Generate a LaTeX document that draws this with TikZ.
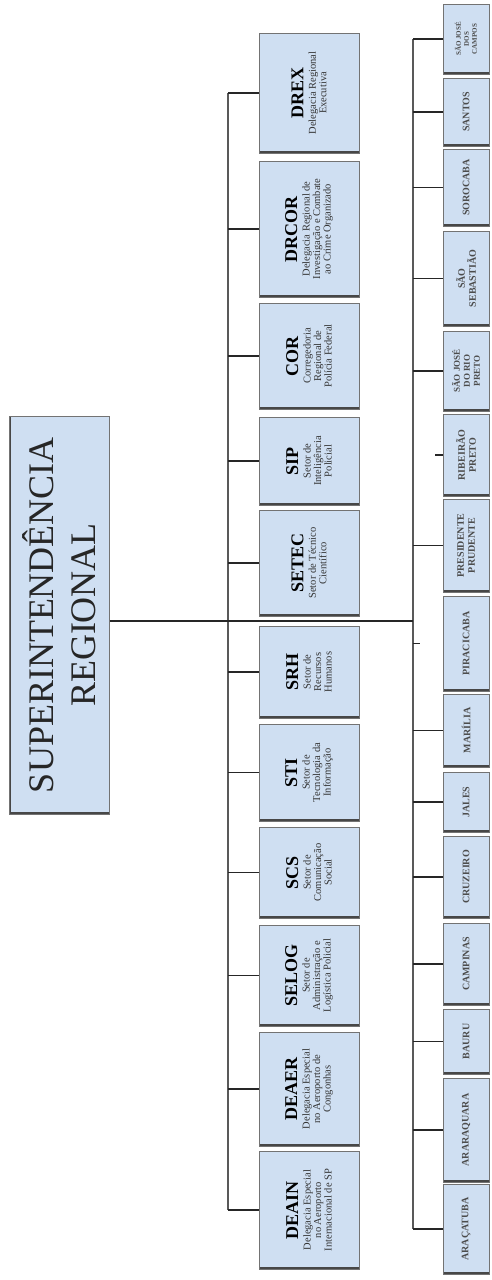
\documentclass[tikz,border=0pt]{standalone}
\usepackage{fontspec}
\setmainfont{Liberation Serif}

\definecolor{boxfill}{RGB}{207,223,242}
\newcommand{\ttl}[1]{{\fontsize{18}{18}\selectfont\bfseries\color{black}#1}\\[2pt]}

\begin{document}
\begin{tikzpicture}[x=1pt, y=-1pt,
  box/.style={draw=black!55, fill=boxfill, line width=0.8pt, rotate=90,
    align=center, inner sep=1pt,
    path picture={
      \draw[black!72, line width=2.5pt] (path picture bounding box.north west) -- (path picture bounding box.south west);
      \draw[black!72, line width=5pt] (path picture bounding box.south west) -- (path picture bounding box.south east);}},
  unit/.style={box, minimum height=100pt, font=\fontsize{10.5}{10.5}\selectfont, text=black!80},
  city/.style={box, minimum height=46pt, font=\fontsize{10}{11}\selectfont\bfseries, text=black!70},
  link/.style={line width=1.8pt, black!85},
  bus/.style={line width=1.5pt, black!65}]

\useasboundingbox (0,0) rectangle (492,1280);

%========================
% Superintendência
%========================
\node[box, minimum width=398pt, minimum height=100pt, text=black!85,
  font=\fontsize{36}{42}\selectfont] (sr) at (59.5,615) {SUPERINTENDÊNCIA\\REGIONAL};

%========================
% delegacias e setores
%========================
\node[unit, minimum width=120pt] (drex)  at (309,93)    {\ttl{DREX}Delegacia Regional\\Executiva};
\node[unit, minimum width=136pt] (drcor) at (309,229)   {\ttl{DRCOR}Delegacia Regional de\\Investigação e Combate\\ao Crime Organizado};
\node[unit, minimum width=106pt] (cor)   at (309,356)   {\ttl{COR}Corregedoria\\Regional de\\Polícia Federal};
\node[unit, minimum width=88pt]  (sip)   at (309,461)   {\ttl{SIP}Setor de\\Inteligência\\Policial};
\node[unit, minimum width=106pt] (setec) at (309,563)   {\ttl{SETEC}Setor de Técnico\\Científico};
\node[unit, minimum width=92pt]  (srh)   at (309,672)   {\ttl{SRH}Setor de\\Recursos\\Humanos};
\node[unit, minimum width=97pt]  (sti)   at (309,772.5) {\ttl{STI}Setor de\\Tecnologia da\\Informação};
\node[unit, minimum width=91pt]  (scs)   at (309,872.5) {\ttl{SCS}Setor de\\Comunicação\\Social};
\node[unit, minimum width=101pt] (selog) at (309,975.5) {\ttl{SELOG}Setor de\\Administração e\\Logística Policial};
\node[unit, minimum width=114pt] (deaer) at (309,1089)  {\ttl{DEAER}Delegacia Especial\\no Aeroporto de\\Congonhas};
\node[unit, minimum width=118pt] (deain) at (309,1210)  {\ttl{DEAIN}Delegacia Especial\\no Aeroporto\\Internacional de SP};

%========================
% descentralizadas
%========================
\node[city, minimum width=70pt, font=\fontsize{7}{8}\selectfont\bfseries] (sjc) at (466,39) {SÃO JOSÉ\\DOS\\CAMPOS};
\node[city, minimum width=68pt]  (santos)     at (466,112)    {SANTOS};
\node[city, minimum width=77pt]  (sorocaba)   at (466,187.5)  {SOROCABA};
\node[city, minimum width=95pt]  (ssebastiao) at (466,278.5)  {SÃO\\SEBASTIÃO};
\node[city, minimum width=80pt, font=\fontsize{9}{10}\selectfont\bfseries] (sjrp) at (466,371) {SÃO JOSÉ\\DO RIO\\PRETO};
\node[city, minimum width=82pt]  (ribeirao)   at (466,455)    {RIBEIRÃO\\PRETO};
\node[city, minimum width=93pt]  (pprudente)  at (466,545.5)  {PRESIDENTE\\PRUDENTE};
\node[city, minimum width=95pt]  (piracicaba) at (466,643.5)  {PIRACICABA};
\node[city, minimum width=73pt]  (marilia)    at (466,730.5)  {MARÍLIA};
\node[city, minimum width=60pt]  (jales)      at (466,802)    {JALES};
\node[city, minimum width=82pt]  (cruzeiro)   at (466,877)    {CRUZEIRO};
\node[city, minimum width=82pt]  (campinas)   at (466,964)    {CAMPINAS};
\node[city, minimum width=65pt]  (bauru)      at (466,1041.5) {BAURU};
\node[city, minimum width=104pt] (araraquara) at (466,1130)   {ARARAQUARA};
\node[city, minimum width=90pt]  (aracatuba)  at (466,1229)   {ARAÇATUBA};

%========================
% barramentos
%========================
\coordinate (mbus) at (228,0);
\coordinate (rbus) at (413,0);
\coordinate (srout) at ([yshift=-6pt]sr.south);

\draw[bus] (mbus |- drex.north) -- (mbus |- deain.north);
\draw[bus] (rbus |- sjc.north) -- (rbus |- aracatuba.north);
\draw[link] (srout) -- (rbus |- srout);

\foreach \n in {drex,drcor,cor,sip,setec,srh,sti,scs,selog,deaer,deain}
  \draw[link] (mbus |- \n.north) -- (\n.north);

\foreach \n in {sjc,santos,sorocaba,ssebastiao,sjrp,pprudente,marilia,jales,cruzeiro,campinas,bauru,araraquara,aracatuba}
  \draw[link] (rbus |- \n.north) -- (\n.north);

% tocos soltos
\draw[link] (ribeirao.north) -- ++(-8,0);
\draw[link] (rbus |- piracicaba.north) -- ++(7,0);

\end{tikzpicture}
\end{document}
